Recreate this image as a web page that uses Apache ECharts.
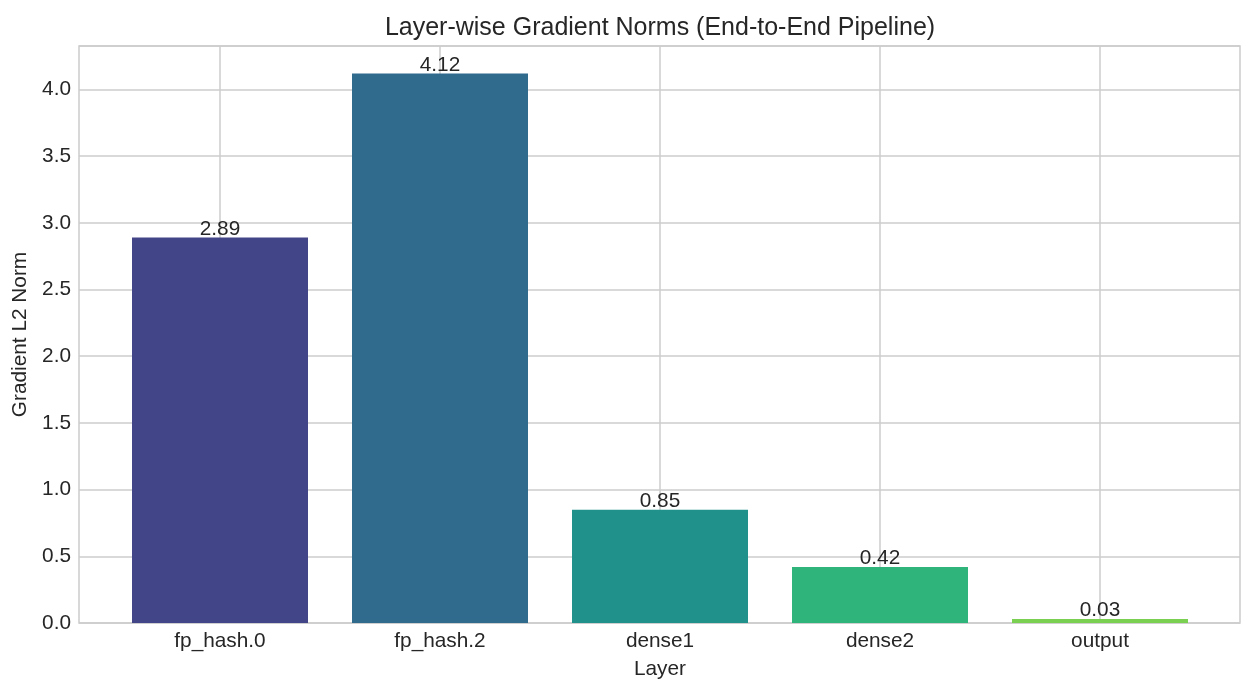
<!DOCTYPE html>
<html>
<head>
<meta charset="utf-8">
<script src="https://cdn.jsdelivr.net/npm/echarts@6/dist/echarts.min.js"></script>
<style>
html,body{margin:0;padding:0;background:#fff;}
#chart{width:1256px;height:692px;}
</style>
</head>
<body>
<div id="chart"></div>
<script>
const categories = ['fp_hash.0', 'fp_hash.2', 'dense1', 'dense2', 'output'];
const values = [2.89, 4.12, 0.85, 0.42, 0.03];
const barColors = ['#424587', '#306b8e', '#21918c', '#2fb47c', '#7ad151'];
const titleText = 'Layer-wise Gradient Norms (End-to-End Pipeline)';
const xName = 'Layer';
const yName = 'Gradient L2 Norm';

const FONT = '"Liberation Sans", Arial, sans-serif';
const TXT = '#262626';
const GRIDC = '#cccccc';
const yMax = Math.max(...values) * 1.05;

const chart = echarts.init(document.getElementById('chart'), null, {renderer: 'canvas'});
chart.setOption({
  backgroundColor: '#ffffff',
  animation: false,
  textStyle: {fontFamily: FONT, color: TXT},
  title: {
    text: titleText, left: 655, textAlign: 'center', top: 11,
    textStyle: {fontFamily: FONT, fontSize: 25, fontWeight: 'normal', color: TXT}
  },
  grid: [
    {left: 79, right: 16, top: 46, bottom: 69, show: true, borderColor: GRIDC, borderWidth: 1.5, backgroundColor: 'transparent'},
    {left: 220, right: 156, top: 46, bottom: 69}
  ],
  xAxis: [
    {type: 'value', gridIndex: 0, min: 0, max: 1, show: false, splitLine: {show: false}},
    {
      type: 'category', gridIndex: 1, data: categories, boundaryGap: false,
      name: xName, nameLocation: 'middle', nameGap: 36,
      nameTextStyle: {fontFamily: FONT, fontSize: 20.8, color: TXT},
      axisLine: {show: false}, axisTick: {show: false},
      axisLabel: {fontFamily: FONT, fontSize: 20.8, color: TXT, margin: 8, interval: 0},
      splitLine: {show: true, lineStyle: {color: GRIDC, width: 1.5}}
    }
  ],
  yAxis: [
    {
      type: 'value', gridIndex: 0, min: 0, max: yMax, interval: 0.5,
      name: yName, nameLocation: 'middle', nameGap: 43,
      nameTextStyle: {fontFamily: FONT, fontSize: 20.8, color: TXT},
      axisLine: {show: false}, axisTick: {show: false},
      axisLabel: {fontFamily: FONT, fontSize: 20.8, color: TXT, margin: 8, showMaxLabel: false,
        padding: [3, 0, 0, 0], formatter: v => v.toFixed(1)},
      splitLine: {show: true, lineStyle: {color: GRIDC, width: 1.5}}
    },
    {type: 'value', gridIndex: 1, min: 0, max: yMax, show: false, splitLine: {show: false}}
  ],
  series: [{
    type: 'bar', xAxisIndex: 1, yAxisIndex: 1,
    barWidth: '80%',
    data: values.map((v, i) => ({value: v, itemStyle: {color: barColors[i]}})),
    label: {
      show: true, position: 'top', distance: -2,
      fontFamily: FONT, fontSize: 20.8, color: TXT,
      formatter: p => p.value.toFixed(2)
    }
  }]
});
</script>
</body>
</html>
